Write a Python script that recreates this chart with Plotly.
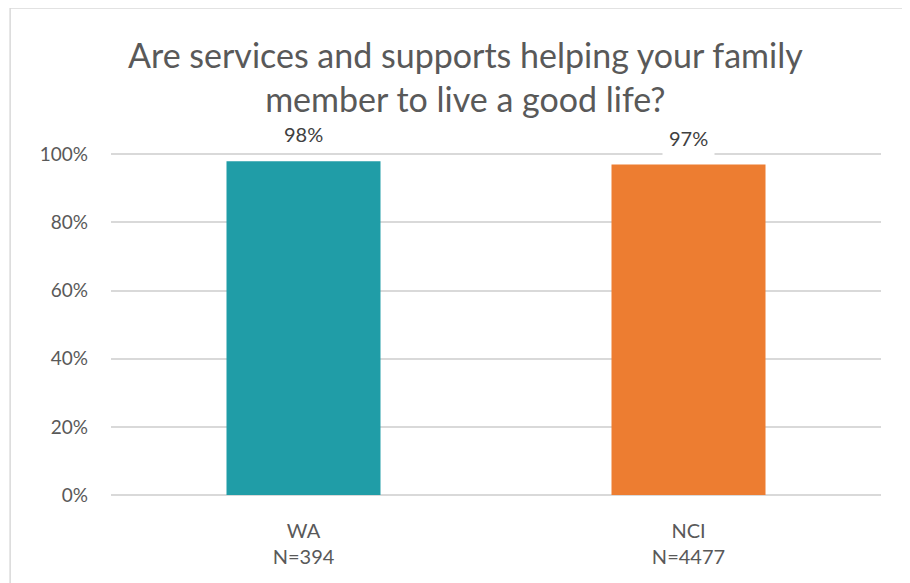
import plotly.graph_objects as go

categories = ["WA<br>N=394", "NCI<br>N=4477"]
values = [98, 97]
labels = ["98%", "97%"]
bar_colors = ["#209DA7", "#ED7D31"]
y_ticks = [0, 20, 40, 60, 80, 100]
y_tick_text = ["0%", "20%", "40%", "60%", "80%", "100%"]

TITLE = "Are services and supports helping your family<br>member to live a good life?"
FONT = "Lato, 'Open Sans', sans-serif"
GRAY = "#595959"

fig = go.Figure()
fig.add_trace(
    go.Bar(
        x=categories,
        y=values,
        marker=dict(color=bar_colors, line=dict(width=0)),
        width=0.4,
        hoverinfo="skip",
    )
)

# data labels with white boxes that break the gridline
for cat, val, lab in zip(categories, values, labels):
    fig.add_annotation(
        x=cat, y=val, text=lab, showarrow=False,
        yanchor="bottom", yshift=8,
        bgcolor="white", borderpad=6,
        font=dict(family=FONT, size=20, color="#404040"),
    )

# title as annotation so it sits where the reference has it
fig.add_annotation(
    text=TITLE, xref="paper", yref="paper", x=0.46, y=1.225,
    xanchor="center", yanchor="middle", showarrow=False,
    font=dict(family=FONT, size=34, color=GRAY),
)

# outer chart border
fig.add_shape(
    type="rect", xref="paper", yref="paper",
    x0=-0.131, x1=1.0286, y0=-0.3, y1=1.424,
    line=dict(color="#D9D9D9", width=1.5), fillcolor="rgba(0,0,0,0)",
    layer="below",
)

# page body has an 8px margin, so the figure is 8px smaller on each axis
fig.update_layout(
    width=902, height=575,
    paper_bgcolor="white", plot_bgcolor="white",
    margin=dict(l=103, r=29, t=145, b=88, autoexpand=False),
    font=dict(family=FONT, color=GRAY, size=19),
    showlegend=False,
    bargap=0.6,
)
fig.update_xaxes(
    showgrid=False, showline=False, ticks="", automargin=False,
    ticklabelstandoff=22,
    tickfont=dict(family=FONT, size=20, color=GRAY),
)
fig.update_yaxes(
    range=[0, 100.4], tickvals=y_ticks, ticktext=y_tick_text,
    showgrid=True, gridcolor="#D9D9D9", gridwidth=1.5,
    zeroline=True, zerolinecolor="#D9D9D9", zerolinewidth=1.5,
    showline=False, ticks="", ticklabelstandoff=22, automargin=False,
    tickfont=dict(family=FONT, size=19, color=GRAY),
)

fig.write_html("out.html")
